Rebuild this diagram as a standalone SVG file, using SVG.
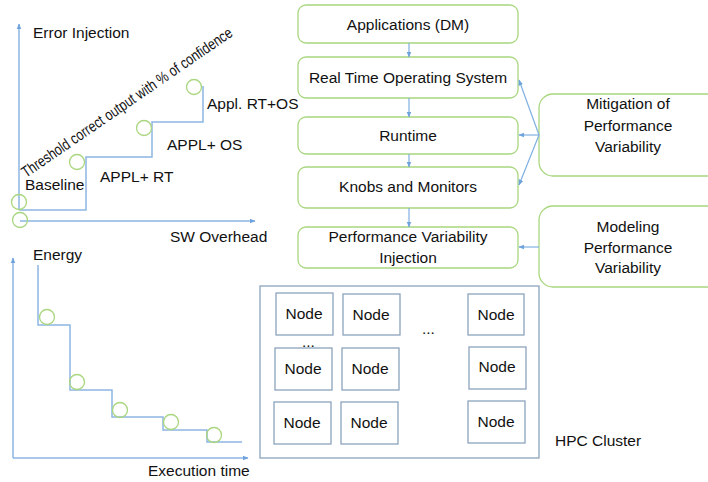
<svg xmlns="http://www.w3.org/2000/svg" width="708" height="482" viewBox="0 0 708 482">
<defs>
<marker id="ah" viewBox="0 0 10 10" refX="9" refY="5" markerWidth="6" markerHeight="6" orient="auto-start-reverse" markerUnits="userSpaceOnUse">
<path d="M0,1 L10,5 L0,9 z" fill="#6fa3dc"/>
</marker>
<style>
text{font-family:"Liberation Sans",Arial,sans-serif;font-size:15.5px;fill:#111;}
.c{text-anchor:middle;}
.ln{fill:none;stroke:#8db6e2;stroke-width:1.5;}
.ax{fill:none;stroke:#8db6e2;stroke-width:1.5;}
.cir{fill:none;stroke:#a9d67f;stroke-width:1.3;}
.box{fill:#fff;stroke:#a9d67f;stroke-width:1.3;}
.nd{fill:#fff;stroke:#8da4bd;stroke-width:1.3;}
.cl{fill:#fff;stroke:#8da4bd;stroke-width:1.3;}
.ar{fill:none;stroke:#7fb0e2;stroke-width:1.2;}
</style>
</defs>
<rect width="708" height="482" fill="#fff"/>

<g id="chart-error">
<line class="ax" x1="19" y1="210" x2="19" y2="24" marker-end="url(#ah)"/>
<line class="ax" x1="20" y1="221" x2="255" y2="221" marker-end="url(#ah)"/>
<polyline class="ln" points="19,210 86,210 86,157 152,157 152,122 203,122 203,86"/>
<circle class="cir" cx="19" cy="202" r="7.5"/>
<circle class="cir" cx="20" cy="220" r="7.5"/>
<circle class="cir" cx="77" cy="162" r="7.5"/>
<circle class="cir" cx="144" cy="128" r="7.5"/>
<circle class="cir" cx="194" cy="87" r="7.5"/>
<text x="33" y="38">Error Injection</text>
<text x="25" y="190">Baseline</text>
<text x="100" y="182">APPL+ RT</text>
<text x="167" y="150">APPL+ OS</text>
<text x="207" y="109">Appl. RT+OS</text>
<text x="170" y="242">SW Overhead</text>
<text x="0" y="0" font-size="12.5" textLength="252" lengthAdjust="spacingAndGlyphs" transform="translate(26,178) rotate(-34.5)">Threshold correct output with % of confidence</text>
</g>

<g id="chart-energy">
<line class="ax" x1="13" y1="458" x2="13" y2="258" marker-end="url(#ah)"/>
<line class="ax" x1="13" y1="458" x2="248" y2="458" marker-end="url(#ah)"/>
<polyline class="ln" points="38,265 38,325 70,325 70,390 112,390 112,417 163,417 163,430 207,430 207,442 242,442"/>
<circle class="cir" cx="47" cy="317" r="7.5"/>
<circle class="cir" cx="77" cy="382" r="7.5"/>
<circle class="cir" cx="120" cy="410" r="7.5"/>
<circle class="cir" cx="171" cy="422" r="7.5"/>
<circle class="cir" cx="214" cy="435" r="7.5"/>
<text x="33" y="260">Energy</text>
<text x="148" y="476">Execution time</text>
</g>

<g id="n-apps"><rect class="box" x="298" y="5" width="220" height="38" rx="8"/><text class="c" x="408" y="30">Applications (DM)</text></g>
<g id="n-rtos"><rect class="box" x="298" y="57" width="220" height="41" rx="8"/><text class="c" x="408" y="83">Real Time Operating System</text></g>
<g id="n-runtime"><rect class="box" x="298" y="117" width="220" height="37" rx="8"/><text class="c" x="408" y="141">Runtime</text></g>
<g id="n-knobs"><rect class="box" x="298" y="167" width="220" height="41" rx="8"/><text class="c" x="408" y="192">Knobs and Monitors</text></g>
<g id="n-pvi"><rect class="box" x="298" y="227" width="220" height="41" rx="8"/><text class="c" x="408" y="242">Performance Variability</text><text class="c" x="408" y="263">Injection</text></g>
<g id="n-mitigation"><rect class="box" x="539" y="94" width="185" height="82" rx="14"/><text class="c" x="628" y="109">Mitigation of</text><text class="c" x="628" y="131">Performance</text><text class="c" x="628" y="152">Variability</text></g>
<g id="n-modeling"><rect class="box" x="539" y="206" width="185" height="81" rx="14"/><text class="c" x="628" y="232">Modeling</text><text class="c" x="628" y="253">Performance</text><text class="c" x="628" y="273">Variability</text></g>

<g id="n-cluster">
<rect class="cl" x="260" y="286" width="279" height="172"/>
<text x="555" y="446">HPC Cluster</text>
<text x="422" y="334" font-size="13">...</text>
<text x="302" y="347" font-size="13">...</text>
</g>
<g id="node-1"><rect class="nd" x="276" y="293" width="57" height="42"/><text class="c" x="304" y="319">Node</text></g>
<g id="node-2"><rect class="nd" x="343" y="294" width="57" height="41"/><text class="c" x="371" y="320">Node</text></g>
<g id="node-3"><rect class="nd" x="468" y="294" width="56" height="41"/><text class="c" x="496" y="320">Node</text></g>
<g id="node-4"><rect class="nd" x="275" y="348" width="57" height="42"/><text class="c" x="303" y="374">Node</text></g>
<g id="node-5"><rect class="nd" x="342" y="348" width="57" height="42"/><text class="c" x="370" y="374">Node</text></g>
<g id="node-6"><rect class="nd" x="469" y="347" width="57" height="42"/><text class="c" x="497" y="372">Node</text></g>
<g id="node-7"><rect class="nd" x="274" y="402" width="57" height="42"/><text class="c" x="302" y="428">Node</text></g>
<g id="node-8"><rect class="nd" x="341" y="402" width="57" height="42"/><text class="c" x="369" y="428">Node</text></g>
<g id="node-9"><rect class="nd" x="468" y="401" width="57" height="42"/><text class="c" x="496" y="427">Node</text></g>

<g id="connectors">
<line class="ar" x1="409" y1="43" x2="409" y2="57" marker-end="url(#ah)"/>
<line class="ar" x1="409" y1="98" x2="409" y2="117" marker-end="url(#ah)"/>
<line class="ar" x1="409" y1="154" x2="409" y2="167" marker-end="url(#ah)"/>
<line class="ar" x1="409" y1="208" x2="409" y2="227" marker-end="url(#ah)"/>
<line class="ar" x1="539" y1="135" x2="519" y2="80" marker-end="url(#ah)"/>
<line class="ar" x1="539" y1="135" x2="519" y2="135" marker-end="url(#ah)"/>
<line class="ar" x1="539" y1="135" x2="519" y2="185" marker-end="url(#ah)"/>
<line class="ar" x1="539" y1="247" x2="519" y2="247" marker-end="url(#ah)"/>
</g>
</svg>
